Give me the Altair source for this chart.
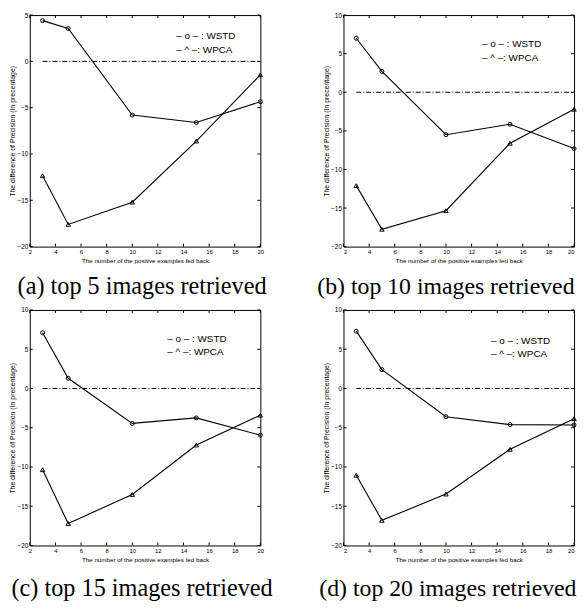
import altair as alt
import pandas as pd

X = [3, 5, 10, 15, 20]
ZERO_X = [3, 20]
XTICKS = [2, 4, 6, 8, 10, 12, 14, 16, 18, 20]

WSTD_A = [4.4, 3.55, -5.8, -6.6, -4.35]
WPCA_A = [-12.35, -17.6, -15.2, -8.6, -1.45]
WSTD_B = [7.0, 2.7, -5.5, -4.15, -7.3]
WPCA_B = [-12.1, -17.75, -15.35, -6.6, -2.2]
WSTD_C = [7.1, 1.3, -4.45, -3.75, -5.95]
WPCA_C = [-10.35, -17.2, -13.5, -7.2, -3.4]
WSTD_D = [7.3, 2.4, -3.6, -4.6, -4.65]
WPCA_D = [-11.05, -16.8, -13.45, -7.75, -3.85]

YDOM_A = [-20, 5]
YDOM_BCD = [-20, 10]
YTICKS_A = [-20, -15, -10, -5, 0, 5]
YTICKS_BCD = [-20, -15, -10, -5, 0, 5, 10]

CAPTIONS = ["(a) top 5 images retrieved", "(b) top 10 images retrieved",
            "(c) top 15 images retrieved", "(d) top 20 images retrieved"]
LEGEND = ["\u2013 o \u2013 : WSTD", "\u2013 ^ \u2013: WPCA"]
XTITLE = "The number of the positive examples fed back"
YTITLE = "The difference of Precision (In precentage)"

W = 233
TICK = 3


def panel(wstd, wpca, ydom, yticks, caption, h, lx, ly, dx, toff, flush, cap_size):
    df = pd.DataFrame({"x": X + X, "y": wstd + wpca,
                       "series": ["WSTD"] * 5 + ["WPCA"] * 5})
    xs = alt.X("x:Q", scale=alt.Scale(domain=[2, 20], nice=False),
               axis=alt.Axis(values=XTICKS, title=XTITLE, labelFlush=flush,
                             labelFontSize=6, titleFontSize=6.3, titlePadding=3))
    ys = alt.Y("y:Q", scale=alt.Scale(domain=ydom, nice=False),
               axis=alt.Axis(values=yticks, title=YTITLE,
                             labelFontSize=6.5, titleFontSize=7, titlePadding=1))
    base = alt.Chart(df)
    lines = base.mark_line(color="black", strokeWidth=1.1).encode(
        x=xs, y=ys, detail="series:N")
    circ = base.transform_filter(alt.datum.series == "WSTD").mark_point(
        shape="circle", filled=False, color="black", size=16, strokeWidth=1, opacity=1
    ).encode(x=xs, y=ys)
    tri = base.transform_filter(alt.datum.series == "WPCA").mark_point(
        shape="triangle-up", filled=False, color="black", size=20, strokeWidth=1, opacity=1
    ).encode(x=xs, y=ys)
    zero = alt.Chart(pd.DataFrame({"x": ZERO_X, "y": [0, 0]})).mark_line(
        color="black", strokeWidth=1, strokeDash=[5, 2, 1, 2]
    ).encode(x=xs, y=ys)

    xt = alt.Chart(pd.DataFrame({"x": XTICKS}))
    yt = alt.Chart(pd.DataFrame({"y": yticks}))
    tick_b = xt.mark_rule(color="black", strokeWidth=1).encode(
        x=xs, y=alt.value(h - TICK), y2=alt.value(h))
    tick_t = xt.mark_rule(color="black", strokeWidth=1).encode(
        x=xs, y=alt.value(0), y2=alt.value(TICK))
    tick_l = yt.mark_rule(color="black", strokeWidth=1).encode(
        y=ys, x=alt.value(0), x2=alt.value(TICK))
    tick_r = yt.mark_rule(color="black", strokeWidth=1).encode(
        y=ys, x=alt.value(W - TICK), x2=alt.value(W))

    leg1 = alt.Chart(pd.DataFrame({"t": [LEGEND[0]]})).mark_text(
        align="left", baseline="middle", font="Liberation Sans", fontSize=10, color="black"
    ).encode(text="t:N", x=alt.value(lx), y=alt.value(ly))
    leg2 = alt.Chart(pd.DataFrame({"t": [LEGEND[1]]})).mark_text(
        align="left", baseline="middle", font="Liberation Sans", fontSize=10, color="black"
    ).encode(text="t:N", x=alt.value(lx), y=alt.value(ly + 14))
    return alt.layer(tick_b, tick_t, tick_l, tick_r, zero, lines, circ, tri,
                     leg1, leg2).properties(
        width=W, height=h,
        title=alt.TitleParams(caption, orient="bottom", font="Liberation Serif",
                              fontSize=cap_size, fontWeight="normal", color="black",
                              frame="group", dx=dx, offset=toff),
    )


pa = panel(WSTD_A, WPCA_A, YDOM_A, YTICKS_A, CAPTIONS[0], 234, 148, 21, -3, 12, False, 24.5)
pb = panel(WSTD_B, WPCA_B, YDOM_BCD, YTICKS_BCD, CAPTIONS[1], 234, 140, 29, -13, 12, True, 24)
pc = panel(WSTD_C, WPCA_C, YDOM_BCD, YTICKS_BCD, CAPTIONS[2], 238, 139, 29, -3, 15, False, 24.5)
pd_ = panel(WSTD_D, WPCA_D, YDOM_BCD, YTICKS_BCD, CAPTIONS[3], 238, 149, 31, -11, 15, True, 24)

chart = alt.concat(
    pa, pb, pc, pd_, columns=2, bounds="flush",
    spacing={"row": 64, "column": 84},
).properties(padding=0, background="white").configure_view(
    stroke="black", strokeWidth=1
).configure_axis(
    grid=False, domain=False, ticks=False, tickSize=0,
    labelColor="black", titleColor="black",
    labelFont="Liberation Sans", titleFont="Liberation Sans",
    titleFontWeight="normal", labelPadding=2,
)

chart.save("out.html", embed_options={"renderer": "svg", "actions": False})
